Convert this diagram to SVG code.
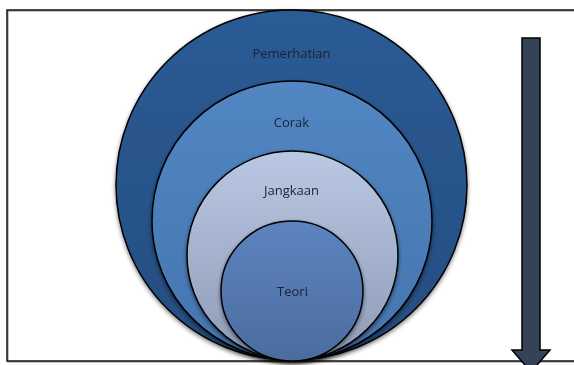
<svg xmlns="http://www.w3.org/2000/svg" width="574" height="365" viewBox="0 0 574 365">
<style>
.c{stroke:#000;stroke-width:1.5}
.t{font-family:"Open Sans","Noto Sans","Liberation Sans",sans-serif;font-size:13px;fill:#1c2233;text-anchor:middle}
</style>
<defs>
<linearGradient id="g1" x1="0" y1="0" x2="0" y2="1"><stop offset="0" stop-color="#2c5b95"/><stop offset="1" stop-color="#244d80"/></linearGradient>
<linearGradient id="g2" x1="0" y1="0" x2="0" y2="1"><stop offset="0" stop-color="#5286c2"/><stop offset="1" stop-color="#4575b0"/></linearGradient>
<linearGradient id="g3" x1="0" y1="0" x2="0" y2="1"><stop offset="0" stop-color="#bac8e3"/><stop offset="1" stop-color="#8d9bb6"/></linearGradient>
<linearGradient id="g4" x1="0" y1="0" x2="0" y2="1"><stop offset="0" stop-color="#5c84bf"/><stop offset="1" stop-color="#4b6c9e"/></linearGradient>
<filter id="sh" x="-10%" y="-10%" width="120%" height="120%"><feGaussianBlur in="SourceAlpha" stdDeviation="2"/><feOffset dy="2"/><feComponentTransfer><feFuncA type="linear" slope="0.5"/></feComponentTransfer><feMerge><feMergeNode/><feMergeNode in="SourceGraphic"/></feMerge></filter>
</defs>
<rect x="0" y="0" width="574" height="365" fill="#fff"/>
<g id="frame">
<rect x="8" y="11" width="600" height="351" fill="none" stroke="#888" stroke-width="1"/>
<rect x="7" y="10" width="600" height="351" fill="none" stroke="#111" stroke-width="1.5"/>
</g>
<g id="pemerhatian" filter="url(#sh)">
<ellipse class="c" cx="291.5" cy="185" rx="175.5" ry="175" fill="url(#g1)"/>
<text class="t" x="291.5" y="58">Pemerhatian</text>
</g>
<g id="corak" filter="url(#sh)">
<ellipse class="c" cx="292" cy="220.5" rx="140" ry="139.5" fill="url(#g2)"/>
<text class="t" x="291.5" y="127">Corak</text>
</g>
<g id="jangkaan" filter="url(#sh)">
<ellipse class="c" cx="292.5" cy="255.5" rx="105.5" ry="104.5" fill="url(#g3)"/>
<text class="t" x="291.5" y="195">Jangkaan</text>
</g>
<g id="teori" filter="url(#sh)">
<ellipse class="c" cx="292" cy="291" rx="71" ry="70" fill="url(#g4)"/>
<text class="t" x="292.5" y="296">Teori</text>
</g>
<g id="connectors">
<path d="M522,38 H540 V350 H550 L531,372 L512,350 H522 Z" fill="#354257" stroke="#000" stroke-width="1.5"/>
</g>
</svg>
